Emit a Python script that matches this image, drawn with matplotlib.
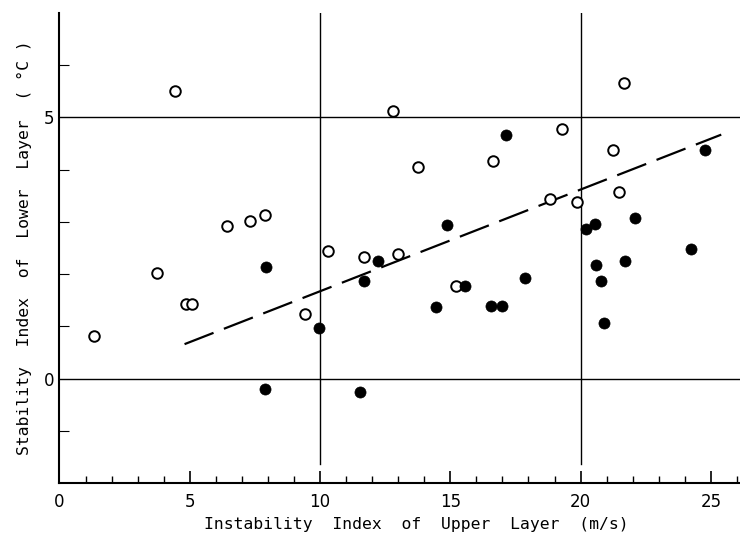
import matplotlib
matplotlib.use("Agg")
import matplotlib.pyplot as plt
from matplotlib.ticker import MultipleLocator, FixedLocator

# ==========================================
# DATA
# ==========================================

# open circles
open_x = [1.32, 3.74, 4.84, 5.10, 4.43, 6.44, 7.30, 7.89, 9.42, 10.32, 11.70,
          12.98, 12.79, 13.77, 15.22, 16.64, 18.83, 19.28, 19.88, 21.24, 21.49, 21.68]
open_y = [0.82, 2.03, 1.42, 1.42, 5.50, 2.92, 3.01, 3.13, 1.24, 2.44, 2.32,
          2.39, 5.13, 4.06, 1.78, 4.17, 3.44, 4.78, 3.38, 4.38, 3.57, 5.65]

# filled circles
solid_x = [7.92, 7.89, 9.97, 11.54, 11.70, 12.24, 14.89, 17.13, 14.44, 15.57, 16.55,
           16.99, 17.88, 20.21, 20.55, 22.09, 20.60, 20.77, 20.89, 21.70, 24.23, 24.79]
solid_y = [2.13, -0.19, 0.97, -0.25, 1.86, 2.25, 2.95, 4.67, 1.38, 1.77, 1.39,
           1.39, 1.93, 2.86, 2.96, 3.08, 2.17, 1.86, 1.06, 2.26, 2.48, 4.38]

# regression line end points
fit_x = [4.8, 25.4]
fit_y = [0.66, 4.67]

x_ticks = [0, 5, 10, 15, 20, 25]
y_ticks = [0, 5]
y_minor = [-1, 1, 2, 3, 4, 6]

# ==========================================
# PLOT
# ==========================================

fig = plt.figure(figsize=(7.4, 5.38), dpi=100)
ax = fig.add_axes([0.0804, 0.102, 0.9196, 0.874])

ax.set_xlim(0, 26.12)
ax.set_ylim(-2, 7)

# reference lines
ax.axhline(5, color="black", lw=1.0, zorder=1)
ax.axhline(0, color="black", lw=1.0, zorder=1)
ax.axvline(10, ymin=0.04, color="black", lw=1.0, zorder=1)
ax.axvline(20, ymin=0.04, color="black", lw=1.0, zorder=1)

ax.plot(fit_x, fit_y, color="black", lw=1.6,
        dashes=(14, 5), zorder=2)

ax.plot(open_x, open_y, "o", ms=7.6, mfc="white", mec="black",
        mew=1.4, zorder=3)
ax.plot(solid_x, solid_y, "o", ms=8.0, mfc="black", mec="black",
        mew=0.5, zorder=3)

for s in ["top", "right"]:
    ax.spines[s].set_visible(False)
ax.spines["left"].set_linewidth(1.5)
ax.spines["bottom"].set_linewidth(1.5)

ax.set_xticks(x_ticks)
ax.xaxis.set_minor_locator(MultipleLocator(1))
ax.set_yticks(y_ticks)
ax.yaxis.set_minor_locator(FixedLocator(y_minor))

ax.tick_params(axis="x", which="major", direction="in", length=9,
               width=1.2, pad=7, labelsize=12)
ax.tick_params(axis="x", which="minor", direction="in", length=5, width=1.0)
ax.tick_params(axis="y", which="major", direction="in", length=0,
               pad=4, labelsize=12)
ax.tick_params(axis="y", which="minor", direction="in", length=7, width=0.8)

ax.set_xlabel("Instability  Index  of  Upper  Layer  (m/s)",
              family="DejaVu Sans Mono", fontsize=11.8)
ax.xaxis.set_label_coords(0.525, -0.072)
ax.set_ylabel("Stability  Index  of  Lower  Layer  ( \u00b0C )",
              family="DejaVu Sans Mono", fontsize=11.8, labelpad=8)

plt.savefig("out.png", dpi=100)
plt.close()
